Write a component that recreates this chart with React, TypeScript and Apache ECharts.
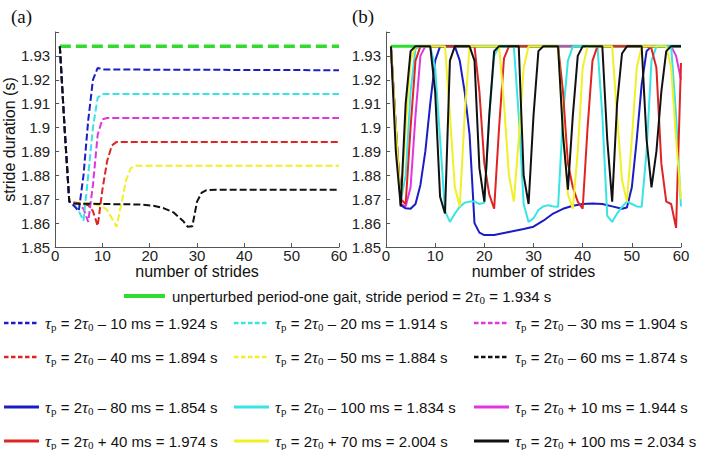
import React, { useEffect, useRef } from "react";
import * as echarts from "echarts";

type P = [number, number][];

// x-axis ticks and y-axis range
const xTicks = [0, 10, 20, 30, 40, 50, 60];
const yMin = 1.85;
const yMax = 1.94;

// Panel (a): dashed, convergent cases
const aGreen: P = [[1, 1.934], [60, 1.934]];
const aBlue: P = [[1, 1.934], [2, 1.9], [3, 1.869], [4, 1.8672], [5, 1.865], [6, 1.88], [7, 1.903], [8, 1.92], [9, 1.925], [10, 1.9243], [60, 1.924]];
const aCyan: P = [[1, 1.934], [2, 1.9], [3, 1.869], [4, 1.868], [5, 1.865], [6, 1.861], [7, 1.88], [8, 1.9], [9, 1.9125], [10, 1.914], [60, 1.914]];
const aMagenta: P = [[1, 1.934], [2, 1.9], [3, 1.869], [5, 1.868], [6, 1.866], [7, 1.8605], [8, 1.876], [9, 1.897], [10, 1.9035], [11, 1.904], [60, 1.904]];
const aRed: P = [[1, 1.934], [2, 1.9], [3, 1.869], [7, 1.8675], [8, 1.865], [9, 1.8588], [10, 1.874], [11, 1.886], [12, 1.8925], [13, 1.894], [60, 1.894]];
const aYellow: P = [[1, 1.934], [2, 1.9], [3, 1.869], [8, 1.868], [10, 1.867], [11, 1.8655], [12, 1.862], [13, 1.8585], [14, 1.868], [15, 1.878], [16, 1.883], [17, 1.884], [60, 1.884]];
const aBlack: P = [[1, 1.934], [2, 1.9], [3, 1.869], [4, 1.8682], [10, 1.868], [18, 1.8678], [21, 1.8672], [23, 1.8662], [25, 1.8645], [27, 1.861], [28, 1.8585], [29, 1.8587], [30, 1.869], [31, 1.8728], [32, 1.8738], [34, 1.874], [60, 1.874]];

// Panel (b): solid, non-convergent cases
const bGreen: P = [[1, 1.934], [60, 1.934]];
const bMagenta: P = [[1, 1.934], [2, 1.9], [3, 1.868], [4, 1.867], [5, 1.875], [6, 1.905], [7, 1.93], [8, 1.934], [58, 1.934], [59, 1.93], [60, 1.92]];
const bRed: P = [[1, 1.934], [2, 1.9], [3, 1.87], [4, 1.868], [5, 1.9], [6, 1.928], [7, 1.934], [18, 1.934], [19, 1.915], [20, 1.885], [21, 1.872], [22, 1.866], [23, 1.9], [24, 1.929], [25, 1.934], [35, 1.934], [36, 1.915], [37, 1.885], [38, 1.875], [39, 1.869], [40, 1.866], [41, 1.9], [42, 1.928], [43, 1.934], [53, 1.934], [54, 1.933], [55, 1.925], [56, 1.885], [57, 1.869], [58, 1.868], [59, 1.858], [60, 1.927]];
const bYellow: P = [[1, 1.934], [2, 1.9], [3, 1.868], [4, 1.9], [5, 1.928], [6, 1.934], [12, 1.934], [13, 1.905], [14, 1.875], [15, 1.867], [16, 1.905], [17, 1.934], [23, 1.934], [24, 1.91], [25, 1.88], [26, 1.869], [27, 1.895], [28, 1.925], [29, 1.934], [35, 1.934], [36, 1.9], [37, 1.872], [38, 1.866], [39, 1.89], [40, 1.925], [41, 1.934], [46, 1.934], [47, 1.905], [48, 1.878], [49, 1.869], [50, 1.895], [51, 1.925], [52, 1.934], [57, 1.934], [58, 1.925], [59, 1.895], [60, 1.87]];
const bCyan: P = [[1, 1.934], [2, 1.9], [3, 1.869], [4, 1.88], [5, 1.915], [6, 1.933], [7, 1.934], [9, 1.934], [10, 1.925], [11, 1.895], [12, 1.865], [13, 1.8605], [14, 1.864], [15, 1.8668], [16, 1.8685], [17, 1.869], [18, 1.869], [19, 1.868], [20, 1.8685], [21, 1.905], [22, 1.93], [23, 1.934], [26, 1.934], [27, 1.905], [28, 1.868], [29, 1.8605], [30, 1.862], [31, 1.8655], [32, 1.867], [33, 1.8675], [34, 1.867], [35, 1.8668], [36, 1.905], [37, 1.928], [38, 1.934], [43, 1.934], [44, 1.905], [45, 1.863], [46, 1.8605], [47, 1.864], [48, 1.8668], [49, 1.869], [50, 1.868], [51, 1.867], [52, 1.8668], [53, 1.89], [54, 1.928], [55, 1.934], [58, 1.934], [59, 1.905], [60, 1.867]];
const bBlue: P = [[1, 1.934], [2, 1.9], [3, 1.8675], [4, 1.8662], [5, 1.866], [6, 1.868], [7, 1.876], [8, 1.89], [9, 1.91], [10, 1.928], [11, 1.934], [14, 1.934], [15, 1.928], [16, 1.915], [17, 1.897], [18, 1.86], [19, 1.856], [20, 1.855], [22, 1.855], [25, 1.8563], [28, 1.8575], [30, 1.8585], [32, 1.861], [34, 1.864], [36, 1.866], [38, 1.8673], [40, 1.868], [42, 1.8682], [44, 1.868], [46, 1.867], [48, 1.866], [49, 1.8665], [50, 1.875], [51, 1.895], [52, 1.918], [53, 1.932], [54, 1.934], [60, 1.934]];
const bBlack: P = [[1, 1.934], [2, 1.89], [3, 1.867], [4, 1.91], [5, 1.932], [6, 1.934], [9, 1.934], [10, 1.915], [11, 1.871], [12, 1.864], [13, 1.928], [14, 1.934], [17, 1.934], [18, 1.928], [19, 1.883], [20, 1.869], [21, 1.905], [22, 1.932], [23, 1.934], [27, 1.934], [28, 1.88], [29, 1.868], [30, 1.905], [31, 1.932], [32, 1.934], [35, 1.934], [36, 1.897], [37, 1.874], [38, 1.905], [39, 1.93], [40, 1.934], [44, 1.934], [45, 1.895], [46, 1.869], [47, 1.91], [48, 1.931], [49, 1.934], [52, 1.934], [53, 1.895], [54, 1.875], [55, 1.89], [56, 1.915], [57, 1.932], [58, 1.934], [60, 1.934]];

// Legend texts
const greenLabel = "unperturbed period-one gait, stride period = 2{t|τ}{s|0} = 1.934 s";
const dashedLabels = [
  ["–", "10", "1.924"], ["–", "20", "1.914"], ["–", "30", "1.904"],
  ["–", "40", "1.894"], ["–", "50", "1.884"], ["–", "60", "1.874"],
];
const solidLabels = [
  ["–", "80", "1.854"], ["–", "100", "1.834"], ["+", "10", "1.944"],
  ["+", "40", "1.974"], ["+", "70", "2.004"], ["+", "100", "2.034"],
];

const C = {
  green: "#2fdc2f",
  blue: "#1c1cc4",
  cyan: "#38e4e4",
  magenta: "#e035e0",
  red: "#e02424",
  yellow: "#f0f028",
  black: "#111111",
};
const dashedColors = [C.blue, C.cyan, C.magenta, C.red, C.yellow, C.black];
const solidColors = [C.blue, C.cyan, C.magenta, C.red, C.yellow, C.black];

const SANS = "'Liberation Sans', Arial, sans-serif";
const SERIF = "'Liberation Serif', 'Times New Roman', serif";

export default function App() {
  const ref = useRef<HTMLDivElement>(null);
  useEffect(() => {
    if (!ref.current) return;
    const chart = echarts.init(ref.current, undefined, { renderer: "svg" });

    const mkX = (gi: number) => ({
      type: "value",
      gridIndex: gi,
      min: xTicks[0],
      max: xTicks[xTicks.length - 1],
      interval: 10,
      name: "number of strides",
      nameLocation: "middle",
      nameGap: 9,
      nameTextStyle: { fontSize: 16, color: "#111", fontFamily: SANS },
      axisLine: { show: true, onZero: false, lineStyle: { color: "#555", width: 1 } },
      axisTick: { show: true, inside: true, length: 4, lineStyle: { color: "#555" } },
      axisLabel: { fontSize: 15, color: "#222", margin: 1, fontFamily: SANS },
      splitLine: { show: false },
    });
    const mkY = (gi: number, withName: boolean) => ({
      type: "value",
      gridIndex: gi,
      min: yMin,
      max: yMax,
      interval: 0.01,
      name: withName ? "stride duration (s)" : "",
      nameLocation: "middle",
      nameGap: 26,
      nameTextStyle: { fontSize: 16, color: "#111", fontFamily: SANS },
      axisLine: { show: true, onZero: false, lineStyle: { color: "#555", width: 1 } },
      axisTick: { show: true, inside: true, length: 4, lineStyle: { color: "#555" } },
      axisLabel: {
        fontSize: 15,
        color: "#222",
        margin: 5,
        fontFamily: SANS,
        formatter: (v: number) => (v > yMax - 0.0005 ? "" : String(+v.toFixed(2))),
      },
      splitLine: { show: false },
    });

    const dashS = (data: P, color: string) => ({
      type: "line",
      xAxisIndex: 0,
      yAxisIndex: 0,
      data,
      symbol: "none",
      lineStyle: { color, width: 2, type: [7, 3] },
    });
    const solidS = (data: P, color: string) => ({
      type: "line",
      xAxisIndex: 1,
      yAxisIndex: 1,
      data,
      symbol: "none",
      lineStyle: { color, width: 2 },
    });

    const rich = {
      t: { fontFamily: SERIF, fontStyle: "italic", fontSize: 17, color: "#111" },
      s: { fontFamily: SERIF, fontSize: 11, color: "#111", padding: [8, 0, 0, 0] },
    };
    const textStyle = (x: number, y: number, text: string) => ({
      type: "text",
      x,
      y,
      style: {
        text,
        fontSize: 15,
        fontFamily: SANS,
        fill: "#111",
        verticalAlign: "middle",
        align: "left",
        rich,
      },
    });

    const colX = [4, 234, 474];
    const rowDashY = [323, 357];
    const rowSolidY = [407, 441];
    const graphics: any[] = [
      { type: "text", x: 11, y: 7, style: { text: "(a)", fontSize: 19, fontFamily: SERIF, fill: "#111" } },
      { type: "text", x: 352, y: 7, style: { text: "(b)", fontSize: 19, fontFamily: SERIF, fill: "#111" } },
      { type: "line", shape: { x1: 124, y1: 296, x2: 165, y2: 296 }, style: { stroke: C.green, lineWidth: 4 } },
      textStyle(172, 296, greenLabel),
    ];
    dashedLabels.forEach((l, i) => {
      const x = colX[i % 3];
      const y = rowDashY[Math.floor(i / 3)];
      graphics.push({ type: "line", shape: { x1: x, y1: y, x2: x + 35, y2: y }, style: { stroke: dashedColors[i], lineWidth: 2.5, lineDash: [4.5, 2.5] } });
      graphics.push(textStyle(x + 41, y, `{t|τ}{s|p} = 2{t|τ}{s|0} ${l[0]} ${l[1]} ms = ${l[2]} s`));
    });
    solidLabels.forEach((l, i) => {
      const x = colX[i % 3];
      const y = rowSolidY[Math.floor(i / 3)];
      graphics.push({ type: "line", shape: { x1: x, y1: y, x2: x + 35, y2: y }, style: { stroke: solidColors[i], lineWidth: 3 } });
      graphics.push(textStyle(x + 41, y, `{t|τ}{s|p} = 2{t|τ}{s|0} ${l[0]} ${l[1]} ms = ${l[2]} s`));
    });

    chart.setOption({
      animation: false,
      backgroundColor: "#ffffff",
      grid: [
        { left: 44, top: 32, width: 295, height: 215 },
        { left: 386, top: 32, width: 295, height: 215 },
      ],
      xAxis: [mkX(0), mkX(1)],
      yAxis: [mkY(0, true), mkY(1, false)],
      series: [
        { ...dashS(aGreen, C.green), lineStyle: { color: C.green, width: 3.5, type: [11, 5] } },
        dashS(aYellow, C.yellow),
        dashS(aRed, C.red),
        dashS(aMagenta, C.magenta),
        dashS(aCyan, C.cyan),
        dashS(aBlue, C.blue),
        dashS(aBlack, C.black),
        { ...solidS(bGreen, C.green), lineStyle: { color: C.green, width: 3 } },
        solidS(bMagenta, C.magenta),
        solidS(bBlue, C.blue),
        solidS(bCyan, C.cyan),
        solidS(bRed, C.red),
        solidS(bYellow, C.yellow),
        solidS(bBlack, C.black),
      ],
      graphic: graphics,
    });
    return () => chart.dispose();
  }, []);
  return <div ref={ref} style={{ width: 703, height: 450, position: "absolute", left: 0, top: 0 }} />;
}
